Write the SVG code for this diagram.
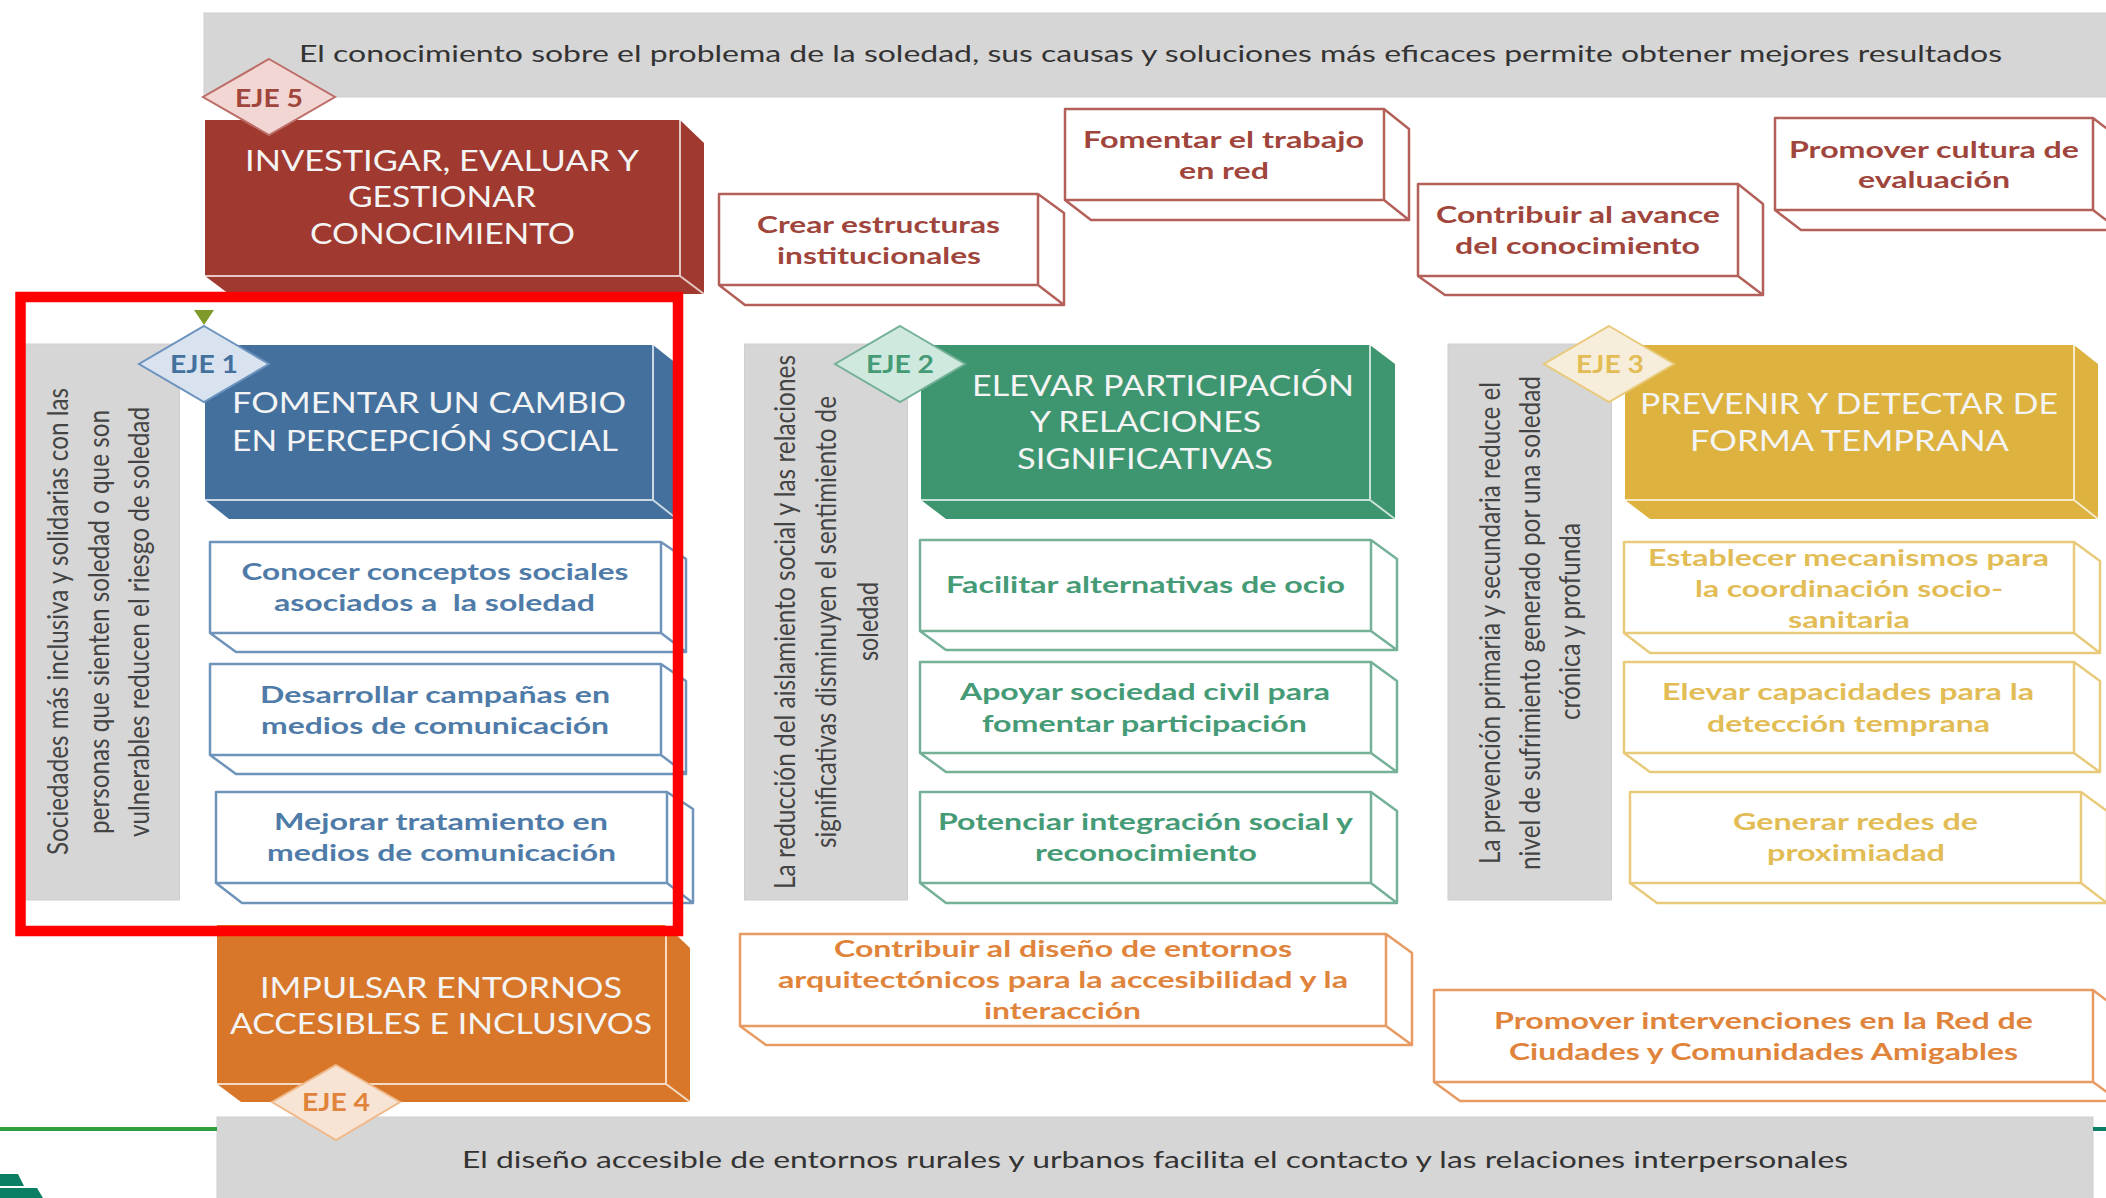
<svg xmlns="http://www.w3.org/2000/svg" width="2106" height="1198" viewBox="0 0 2106 1198">
<style>
text{font-family:Lato,"Liberation Sans",sans-serif;white-space:pre}
.panel{fill:#d6d6d6;stroke:#cfcfcf;stroke-width:1}
.pt{font-size:23px;fill:#333}
.rt{font-size:29px;fill:#444}
.tt{font-size:29.5px;fill:#f4f4f4;transform:translateY(1.2px)}
.st{font-size:22.5px;font-weight:700;transform:translateY(.6px)}
.ej{font-size:24px;font-weight:700;transform:translateY(1px)}
.edge{fill:none;stroke:#fff;stroke-opacity:.72;stroke-width:2}
.ol{fill:#fff;stroke-width:2.500;stroke-linejoin:round}
.r{fill:#a0392f}.rs{stroke:#b4605a}
.b{fill:#44709d}.bs{stroke:#6f94ba}
.g{fill:#3d966f}.gs{stroke:#74b197}
.y{fill:#ddb23f}.ys{stroke:#e8ca7a}
.o{fill:#d8772a}.os{stroke:#e79a61}
</style>
<g id="panels">
<rect class="panel" x="204" y="13" width="1910" height="84"/>
<rect class="panel" x="217" y="1117" width="1876" height="90"/>
<rect class="panel" x="25" y="344" width="154.500" height="556"/>
<rect class="panel" x="744.500" y="344" width="163" height="556"/>
<rect class="panel" x="1448" y="344" width="163.500" height="556"/>
<text class="pt" x="299" y="62" textLength="1703" lengthAdjust="spacingAndGlyphs">El conocimiento sobre el problema de la soledad, sus causas y soluciones más eficaces permite obtener mejores resultados</text>
<text class="pt" x="462" y="1168" textLength="1386" lengthAdjust="spacingAndGlyphs">El diseño accesible de entornos rurales y urbanos facilita el contacto y las relaciones interpersonales</text>
<text class="rt" transform="translate(68,855) rotate(-90)" textLength="467" lengthAdjust="spacingAndGlyphs">Sociedades más inclusiva y solidarias con las</text>
<text class="rt" transform="translate(109,834) rotate(-90)" textLength="424" lengthAdjust="spacingAndGlyphs">personas que sienten soledad o que son</text>
<text class="rt" transform="translate(149,837) rotate(-90)" textLength="430" lengthAdjust="spacingAndGlyphs">vulnerables reducen el riesgo de soledad</text>
<text class="rt" transform="translate(795,889) rotate(-90)" textLength="534" lengthAdjust="spacingAndGlyphs">La reducción del aislamiento social y las relaciones</text>
<text class="rt" transform="translate(836,848) rotate(-90)" textLength="452" lengthAdjust="spacingAndGlyphs">significativas disminuyen el sentimiento de</text>
<text class="rt" transform="translate(878,661) rotate(-90)" textLength="79" lengthAdjust="spacingAndGlyphs">soledad</text>
<text class="rt" transform="translate(1500,864) rotate(-90)" textLength="482" lengthAdjust="spacingAndGlyphs">La prevención primaria y secundaria reduce el</text>
<text class="rt" transform="translate(1540,870) rotate(-90)" textLength="494" lengthAdjust="spacingAndGlyphs">nivel de sufrimiento generado por una soledad</text>
<text class="rt" transform="translate(1580,720) rotate(-90)" textLength="197" lengthAdjust="spacingAndGlyphs">crónica y profunda</text>
</g>
<g id="connectors">
<path d="M0 1129H217" fill="none" stroke="#2e9e3e" stroke-width="4"/>
<path d="M2093 1129H2106" fill="none" stroke="#0b7f63" stroke-width="4"/>
</g>
<g id="logo" fill="#0b7f63">
<polygon points="0,1174 18,1174 24,1186 0,1186"/>
<polygon points="0,1188 37,1188 43,1198 0,1198"/>
</g>
<g id="eje5">
<path class="r" d="M205 120H680L704 143V294H229L205 276Z"/>
<path class="edge" d="M205 276H680V120M680 276L704 294"/>
<text class="tt" x="245" y="170" textLength="394" lengthAdjust="spacingAndGlyphs">INVESTIGAR, EVALUAR Y</text>
<text class="tt" x="348" y="206" textLength="188" lengthAdjust="spacingAndGlyphs">GESTIONAR</text>
<text class="tt" x="310" y="243" textLength="265" lengthAdjust="spacingAndGlyphs">CONOCIMIENTO</text>
</g>
<g id="eje5-crear">
<path class="ol rs" d="M719 194H1038L1064 213V305H745L719 285ZM719 285H1038V194M1038 285L1064 305"/>
<text class="st" style="fill:#a0453c" x="757" y="232" textLength="243" lengthAdjust="spacingAndGlyphs">Crear estructuras</text>
<text class="st" style="fill:#a0453c" x="777" y="263" textLength="204" lengthAdjust="spacingAndGlyphs">institucionales</text>
</g>
<g id="eje5-red">
<path class="ol rs" d="M1065 109H1384L1409 129V220H1091L1065 200ZM1065 200H1384V109M1384 200L1409 220"/>
<text class="st" style="fill:#a0453c" x="1083" y="147" textLength="281" lengthAdjust="spacingAndGlyphs">Fomentar el trabajo</text>
<text class="st" style="fill:#a0453c" x="1179" y="178" textLength="90" lengthAdjust="spacingAndGlyphs">en red</text>
</g>
<g id="eje5-avance">
<path class="ol rs" d="M1418 184H1738L1763 204V295H1445L1418 276ZM1418 276H1738V184M1738 276L1763 295"/>
<text class="st" style="fill:#a0453c" x="1436" y="222" textLength="284" lengthAdjust="spacingAndGlyphs">Contribuir al avance</text>
<text class="st" style="fill:#a0453c" x="1455" y="253" textLength="245" lengthAdjust="spacingAndGlyphs">del conocimiento</text>
</g>
<g id="eje5-cultura">
<path class="ol rs" d="M1775 118H2093L2119 138V230H1801L1775 210ZM1775 210H2093V118M2093 210L2119 230"/>
<text class="st" style="fill:#a0453c" x="1789" y="157" textLength="290" lengthAdjust="spacingAndGlyphs">Promover cultura de</text>
<text class="st" style="fill:#a0453c" x="1858" y="187" textLength="152" lengthAdjust="spacingAndGlyphs">evaluación</text>
</g>
<g id="eje1">
<path class="b" d="M205 345H653L677 364V519H229L205 500Z"/>
<path class="edge" d="M205 500H653V345M653 500L677 519"/>
<text class="tt" x="232" y="412" textLength="394" lengthAdjust="spacingAndGlyphs">FOMENTAR UN CAMBIO</text>
<text class="tt" x="232" y="450" textLength="386" lengthAdjust="spacingAndGlyphs">EN PERCEPCIÓN SOCIAL</text>
</g>
<g id="eje1-conocer">
<path class="ol bs" d="M210 542H661L686 559V652H236L210 633ZM210 633H661V542M661 633L686 652"/>
<text class="st" style="fill:#4f7ba8" x="241.500" y="579" textLength="387" lengthAdjust="spacingAndGlyphs">Conocer conceptos sociales</text>
<text class="st" style="fill:#4f7ba8" x="274" y="610" textLength="321" lengthAdjust="spacingAndGlyphs">asociados a  la soledad</text>
</g>
<g id="eje1-campanas">
<path class="ol bs" d="M210 664H661L686 681V774H236L210 755ZM210 755H661V664M661 755L686 774"/>
<text class="st" style="fill:#4f7ba8" x="260" y="702" textLength="350" lengthAdjust="spacingAndGlyphs">Desarrollar campañas en</text>
<text class="st" style="fill:#4f7ba8" x="261" y="733" textLength="348" lengthAdjust="spacingAndGlyphs">medios de comunicación</text>
</g>
<g id="eje1-tratamiento">
<path class="ol bs" d="M216 792H667L693 809V903H242L216 883ZM216 883H667V792M667 883L693 903"/>
<text class="st" style="fill:#4f7ba8" x="274" y="829" textLength="334" lengthAdjust="spacingAndGlyphs">Mejorar tratamiento en</text>
<text class="st" style="fill:#4f7ba8" x="267" y="860" textLength="349" lengthAdjust="spacingAndGlyphs">medios de comunicación</text>
</g>
<g id="eje2">
<path class="g" d="M921 345H1370L1395 364V519H946L921 500Z"/>
<path class="edge" d="M921 500H1370V345M1370 500L1395 519"/>
<text class="tt" x="972" y="395" textLength="382" lengthAdjust="spacingAndGlyphs">ELEVAR PARTICIPACIÓN</text>
<text class="tt" x="1030" y="431" textLength="231" lengthAdjust="spacingAndGlyphs">Y RELACIONES</text>
<text class="tt" x="1017" y="468" textLength="256" lengthAdjust="spacingAndGlyphs">SIGNIFICATIVAS</text>
</g>
<g id="eje2-ocio">
<path class="ol gs" d="M920 540H1371L1397 559V650H946L920 631ZM920 631H1371V540M1371 631L1397 650"/>
<text class="st" style="fill:#459b76" x="946" y="592" textLength="399" lengthAdjust="spacingAndGlyphs">Facilitar alternativas de ocio</text>
</g>
<g id="eje2-civil">
<path class="ol gs" d="M920 662H1371L1397 681V772H946L920 753ZM920 753H1371V662M1371 753L1397 772"/>
<text class="st" style="fill:#459b76" x="960" y="699" textLength="370" lengthAdjust="spacingAndGlyphs">Apoyar sociedad civil para</text>
<text class="st" style="fill:#459b76" x="982" y="731" textLength="325" lengthAdjust="spacingAndGlyphs">fomentar participación</text>
</g>
<g id="eje2-integracion">
<path class="ol gs" d="M920 792H1371L1397 811V903H946L920 883ZM920 883H1371V792M1371 883L1397 903"/>
<text class="st" style="fill:#459b76" x="938" y="829" textLength="415" lengthAdjust="spacingAndGlyphs">Potenciar integración social y</text>
<text class="st" style="fill:#459b76" x="1035" y="860" textLength="222" lengthAdjust="spacingAndGlyphs">reconocimiento</text>
</g>
<g id="eje3">
<path class="y" d="M1625 345H2074L2098 364V519H1650L1625 500Z"/>
<path class="edge" d="M1625 500H2074V345M2074 500L2098 519"/>
<text class="tt" x="1640" y="413" textLength="418" lengthAdjust="spacingAndGlyphs">PREVENIR Y DETECTAR DE</text>
<text class="tt" x="1690" y="450" textLength="319" lengthAdjust="spacingAndGlyphs">FORMA TEMPRANA</text>
</g>
<g id="eje3-mecanismos">
<path class="ol ys" d="M1624 542H2074L2100 561V653H1650L1624 633ZM1624 633H2074V542M2074 633L2100 653"/>
<text class="st" style="fill:#e2bc55" x="1648" y="565" textLength="401" lengthAdjust="spacingAndGlyphs">Establecer mecanismos para</text>
<text class="st" style="fill:#e2bc55" x="1695" y="596" textLength="308" lengthAdjust="spacingAndGlyphs">la coordinación socio-</text>
<text class="st" style="fill:#e2bc55" x="1788" y="627" textLength="122" lengthAdjust="spacingAndGlyphs">sanitaria</text>
</g>
<g id="eje3-capacidades">
<path class="ol ys" d="M1624 662H2074L2100 681V772H1650L1624 753ZM1624 753H2074V662M2074 753L2100 772"/>
<text class="st" style="fill:#e2bc55" x="1662" y="699" textLength="372" lengthAdjust="spacingAndGlyphs">Elevar capacidades para la</text>
<text class="st" style="fill:#e2bc55" x="1707" y="731" textLength="283" lengthAdjust="spacingAndGlyphs">detección temprana</text>
</g>
<g id="eje3-redes">
<path class="ol ys" d="M1630 792H2081L2107 811V903H1657L1630 883ZM1630 883H2081V792M2081 883L2107 903"/>
<text class="st" style="fill:#e2bc55" x="1733" y="829" textLength="245" lengthAdjust="spacingAndGlyphs">Generar redes de</text>
<text class="st" style="fill:#e2bc55" x="1767" y="860" textLength="178" lengthAdjust="spacingAndGlyphs">proximiadad</text>
</g>
<g id="eje4">
<path class="o" d="M217 925H666L690 948V1102H241L217 1084Z"/>
<path class="edge" d="M217 1084H666V925M666 1084L690 1102"/>
<text class="tt" x="260" y="997" textLength="362" lengthAdjust="spacingAndGlyphs">IMPULSAR ENTORNOS</text>
<text class="tt" x="230" y="1033" textLength="422" lengthAdjust="spacingAndGlyphs">ACCESIBLES E INCLUSIVOS</text>
</g>
<g id="eje4-diseno">
<path class="ol os" d="M740 934H1386L1412 953V1045H766L740 1026ZM740 1026H1386V934M1386 1026L1412 1045"/>
<text class="st" style="fill:#e0833b" x="834" y="956" textLength="458" lengthAdjust="spacingAndGlyphs">Contribuir al diseño de entornos</text>
<text class="st" style="fill:#e0833b" x="778" y="987" textLength="570" lengthAdjust="spacingAndGlyphs">arquitectónicos para la accesibilidad y la</text>
<text class="st" style="fill:#e0833b" x="984" y="1018" textLength="157" lengthAdjust="spacingAndGlyphs">interacción</text>
</g>
<g id="eje4-ciudades">
<path class="ol os" d="M1434 990H2093L2119 1010V1101H1460L1434 1082ZM1434 1082H2093V990M2093 1082L2119 1101"/>
<text class="st" style="fill:#e0833b" x="1494" y="1028" textLength="539" lengthAdjust="spacingAndGlyphs">Promover intervenciones en la Red de</text>
<text class="st" style="fill:#e0833b" x="1509" y="1059" textLength="509" lengthAdjust="spacingAndGlyphs">Ciudades y Comunidades Amigables</text>
</g>
<g id="badge-eje5">
<polygon points="269,59 335,97 269,135 203,97" fill="#f2d6d3" stroke="#bd6d67" stroke-width="2"/>
<text class="ej" style="fill:#a0453c" x="235" y="106" textLength="68" lengthAdjust="spacingAndGlyphs">EJE 5</text>
</g>
<g id="badge-eje1">
<polygon points="204,326 269,364 204,402 139,364" fill="#d8e3ef" stroke="#6b93bd" stroke-width="2"/>
<text class="ej" style="fill:#44709d" x="170" y="372" textLength="68" lengthAdjust="spacingAndGlyphs">EJE 1</text>
</g>
<g id="badge-eje2">
<polygon points="900,326 965,364 900,402 835,364" fill="#d0e9df" stroke="#74b197" stroke-width="2"/>
<text class="ej" style="fill:#459b76" x="866" y="372" textLength="68" lengthAdjust="spacingAndGlyphs">EJE 2</text>
</g>
<g id="badge-eje3">
<polygon points="1609,326 1674,364 1609,402 1544,364" fill="#f6eedb" stroke="#e8ca7a" stroke-width="2"/>
<text class="ej" style="fill:#e2bc55" x="1576" y="372" textLength="68" lengthAdjust="spacingAndGlyphs">EJE 3</text>
</g>
<g id="badge-eje4">
<polygon points="336,1065 400,1102 336,1140 272,1102" fill="#f8e4d4" stroke="#efb98b" stroke-width="2"/>
<text class="ej" style="fill:#e0833b" x="302" y="1110" textLength="68" lengthAdjust="spacingAndGlyphs">EJE 4</text>
</g>
<g id="marker">
<polygon points="194,310 214,310 204,325" fill="#7f9a28"/>
</g>
<g id="highlight">
<rect x="20.500" y="297" width="657.500" height="634" fill="none" stroke="#ff0000" stroke-width="10.500"/>
</g>
</svg>
